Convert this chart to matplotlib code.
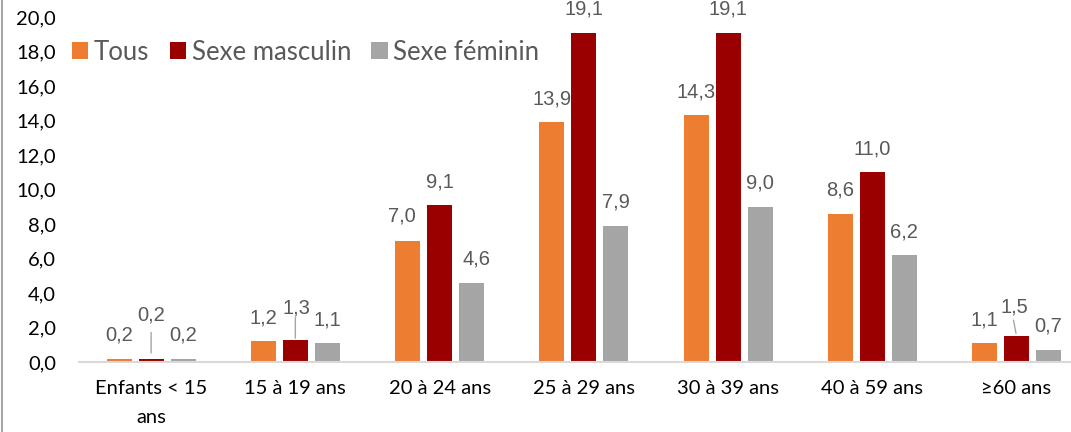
import matplotlib
matplotlib.use('Agg')
import matplotlib.pyplot as plt
from matplotlib.lines import Line2D
import numpy as np

# ---------------- data ----------------
categories = ["Enfants < 15\nans", "15 à 19 ans", "20 à 24 ans", "25 à 29 ans",
              "30 à 39 ans", "40 à 59 ans", "≥60 ans"]
series_names = ["Tous", "Sexe masculin", "Sexe féminin"]
tous = [0.2, 1.2, 7.0, 13.9, 14.3, 8.6, 1.1]
masculin = [0.2, 1.3, 9.1, 19.1, 19.1, 11.0, 1.5]
feminin = [0.2, 1.1, 4.6, 7.9, 9.0, 6.2, 0.7]
y_ticks = [0, 2, 4, 6, 8, 10, 12, 14, 16, 18, 20]

# ---------------- style ----------------
colors = ['#ED7D31', '#9A0000', '#A5A5A5']
label_color = '#595959'
W, H = 1071, 432
fig = plt.figure(figsize=(W / 100, H / 100), dpi=100)
ax = fig.add_axes([79 / W, (H - 362) / H, 1 - 79 / W, (362 - 17) / H])

x = np.arange(len(categories))
bar_w = 25 / 144.25
step = 32 / 144.25
series = [tous, masculin, feminin]

# per-label nudges in pixels (dx, dy) and leader-line flags
nudges = {(0, 2): (-6, 2), (2, 2): (5, 0),
          (1, 0): (0, 20), (1, 1): (1, 8), (1, 6): (-2, 6)}
leaders = {(1, 0): ((0, 4), (0, 26)),
           (1, 1): ((0, 1), (0, 22)),
           (1, 6): ((0, 2), (-3, 16))}

def fmt(v):
    return f"{v:.1f}".replace('.', ',')

for s, (vals, name, col) in enumerate(zip(series, series_names, colors)):
    xs = x + (s - 1) * step
    ax.bar(xs, vals, width=bar_w, color=col, label=name, zorder=2)
    for i, (xi, v) in enumerate(zip(xs, vals)):
        dx, dy = nudges.get((s, i), (0, 0))
        ax.annotate(fmt(v), xy=(xi, v), xytext=(dx, 18 + dy),
                    textcoords='offset pixels', ha='center', va='baseline',
                    fontsize=14.5, color=label_color, family='Liberation Sans',
                    annotation_clip=False)
        if (s, i) in leaders:
            (x0, y0), (x1, y1) = leaders[(s, i)]
            ax.annotate('', xy=(xi, v), xytext=(x1, y1), textcoords='offset pixels',
                        arrowprops=dict(arrowstyle='-', color='#A6A6A6', lw=1.0,
                                        shrinkA=0, shrinkB=y0),
                        annotation_clip=False)

ax.set_xlim(-0.5, (1071 - 151) / 144.25)
ax.set_ylim(0, 20)
ax.set_yticks(y_ticks)
ax.set_yticklabels([fmt(t) for t in y_ticks], family=['Lato', 'DejaVu Sans'],
                   fontsize=14.5, color='#000000')
ax.set_xticks(x)
ax.set_xticklabels(categories, family=['Lato', 'DejaVu Sans'], fontsize=14.5,
                   color='#000000')
ax.tick_params(axis='y', length=0, pad=16.5)
ax.tick_params(axis='x', length=0, pad=13)
for sp in ['top', 'right', 'left']:
    ax.spines[sp].set_visible(False)
ax.spines['bottom'].set_color('#D9D9D9')
ax.spines['bottom'].set_linewidth(1.5)

leg = ax.legend(loc='center left', bbox_to_anchor=(72 / W, 1 - 52 / H),
                bbox_transform=fig.transFigure, ncol=3, frameon=False,
                prop={'family': 'Lato', 'size': 18.5}, handlelength=0.64,
                handleheight=0.64, handletextpad=0.22, columnspacing=0.78,
                borderpad=0, borderaxespad=0)
for t in leg.get_texts():
    t.set_color(label_color)

fig.add_artist(Line2D([1.5 / W, 1.5 / W], [0, 1], transform=fig.transFigure,
                      color='#A6A6A6', lw=1.5))

fig.canvas.draw()
for tk in ax.xaxis.get_major_ticks():
    tk.label1.set_linespacing(1.85)

fig.savefig('out.png', dpi=100)
